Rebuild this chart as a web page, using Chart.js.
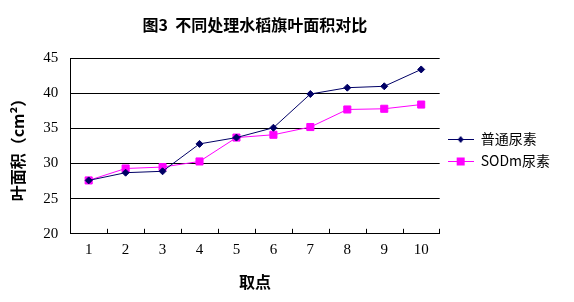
<!DOCTYPE html>
<html>
<head>
<meta charset="utf-8">
<script src="https://cdn.jsdelivr.net/npm/chart.js@4/dist/chart.umd.min.js"></script>
<style>
  html, body { margin: 0; padding: 0; background: #fff; }
  #wrap { width: 574px; height: 302px; position: relative; }
</style>
</head>
<body>
<div id="wrap"><canvas id="chart"></canvas></div>
<script>
// data
const points = ['1', '2', '3', '4', '5', '6', '7', '8', '9', '10'];
const normalUrea = [27.6, 28.7, 28.9, 32.8, 33.7, 35.1, 39.9, 40.8, 41.0, 43.4];
const sodmUrea = [27.6, 29.3, 29.5, 30.3, 33.7, 34.1, 35.2, 37.7, 37.8, 38.4];
const seriesNames = ['普通尿素', 'SODm尿素'];

const navy = '#000066';
const magenta = '#ff00ff';

// legend swatch: short line with the marker in the middle
function swatch(color, style) {
    const c = document.createElement('canvas');
    c.width = 26; c.height = 10;
    const g = c.getContext('2d');
    g.strokeStyle = color;
    g.lineWidth = 1;
    g.beginPath(); g.moveTo(0, 5.5); g.lineTo(26, 5.5); g.stroke();
    g.fillStyle = color;
    if (style === 'rectRot') {
        g.beginPath(); g.moveTo(13, 2); g.lineTo(16, 5.5); g.lineTo(13, 9); g.lineTo(10, 5.5); g.closePath(); g.fill();
    } else {
        g.fillRect(9, 1.5, 8, 8);
    }
    return c;
}
const swatches = [swatch(navy, 'rectRot'), swatch(magenta, 'rect')];

// small tick marks pointing up from the x axis, between categories
const innerTicks = {
    id: 'innerTicks',
    afterDraw(chart) {
        const x = chart.scales.x, a = chart.chartArea, ctx = chart.ctx;
        ctx.save();
        ctx.strokeStyle = '#000';
        ctx.lineWidth = 1;
        ctx.beginPath();
        for (let i = 0; i < points.length; i++) {
            let px;
            if (i + 1 < points.length) {
                px = Math.round((x.getPixelForValue(i) + x.getPixelForValue(i + 1)) / 2) + 0.5;
            } else {
                px = Math.round(a.right) - 0.5;
            }
            ctx.moveTo(px, a.bottom);
            ctx.lineTo(px, a.bottom - 5);
        }
        ctx.stroke();
        ctx.restore();
    }
};

new Chart(document.getElementById('chart'), {
    type: 'line',
    data: {
        labels: points,
        datasets: [{
            label: seriesNames[0],
            data: normalUrea,
            borderColor: navy,
            backgroundColor: navy,
            borderWidth: 1,
            pointStyle: 'rectRot',
            pointRadius: 3.5,
            pointHoverRadius: 3.5,
            tension: 0
        }, {
            label: seriesNames[1],
            data: sodmUrea,
            borderColor: magenta,
            backgroundColor: magenta,
            borderWidth: 1,
            pointStyle: 'rect',
            pointRadius: 5,
            pointHoverRadius: 5,
            tension: 0
        }]
    },
    options: {
        responsive: true,
        maintainAspectRatio: false,
        animation: false,
        layout: { padding: { left: 8, right: 14, top: 8, bottom: 10 } },
        plugins: {
            title: {
                display: true,
                text: '图3  不同处理水稻旗叶面积对比',
                color: '#000',
                fullSize: false,
                font: { family: '"Noto Sans CJK SC"', size: 16, weight: 'bold' },
                padding: { top: 7, bottom: 24 }
            },
            legend: {
                position: 'right',
                labels: {
                    usePointStyle: true,
                    pointStyleWidth: 26,
                    boxHeight: 10,
                    padding: 8,
                    color: '#000',
                    font: { family: '"Noto Sans CJK SC"', size: 14 },
                    generateLabels(chart) {
                        return chart.data.datasets.map((d, i) => ({
                            text: d.label,
                            pointStyle: swatches[i],
                            fillStyle: d.borderColor,
                            strokeStyle: d.borderColor,
                            lineWidth: 0,
                            hidden: false,
                            datasetIndex: i
                        }));
                    }
                }
            },
            tooltip: { enabled: false }
        },
        scales: {
            x: {
                offset: true,
                grid: { display: false, drawTicks: false },
                border: { display: true, color: '#000', width: 1 },
                ticks: {
                    color: '#000',
                    padding: 7,
                    font: { family: '"Liberation Serif"', size: 15 }
                },
                title: {
                    display: true,
                    text: '取点',
                    color: '#000',
                    font: { family: '"Noto Sans CJK SC"', size: 16, weight: 'bold' },
                    padding: { top: 7, bottom: 0 }
                }
            },
            y: {
                min: 20,
                max: 45,
                grid: { color: '#000', lineWidth: 1, drawTicks: false },
                border: { display: true, color: '#000', width: 1 },
                ticks: {
                    stepSize: 5,
                    color: '#000',
                    padding: 12,
                    font: { family: '"Liberation Serif"', size: 15 }
                },
                title: {
                    display: true,
                    text: '叶面积（cm²）',
                    color: '#000',
                    font: { family: '"Noto Sans CJK SC"', size: 16, weight: 'bold' },
                    padding: { top: 0, bottom: 4 }
                }
            }
        }
    },
    plugins: [innerTicks]
});
</script>
</body>
</html>
